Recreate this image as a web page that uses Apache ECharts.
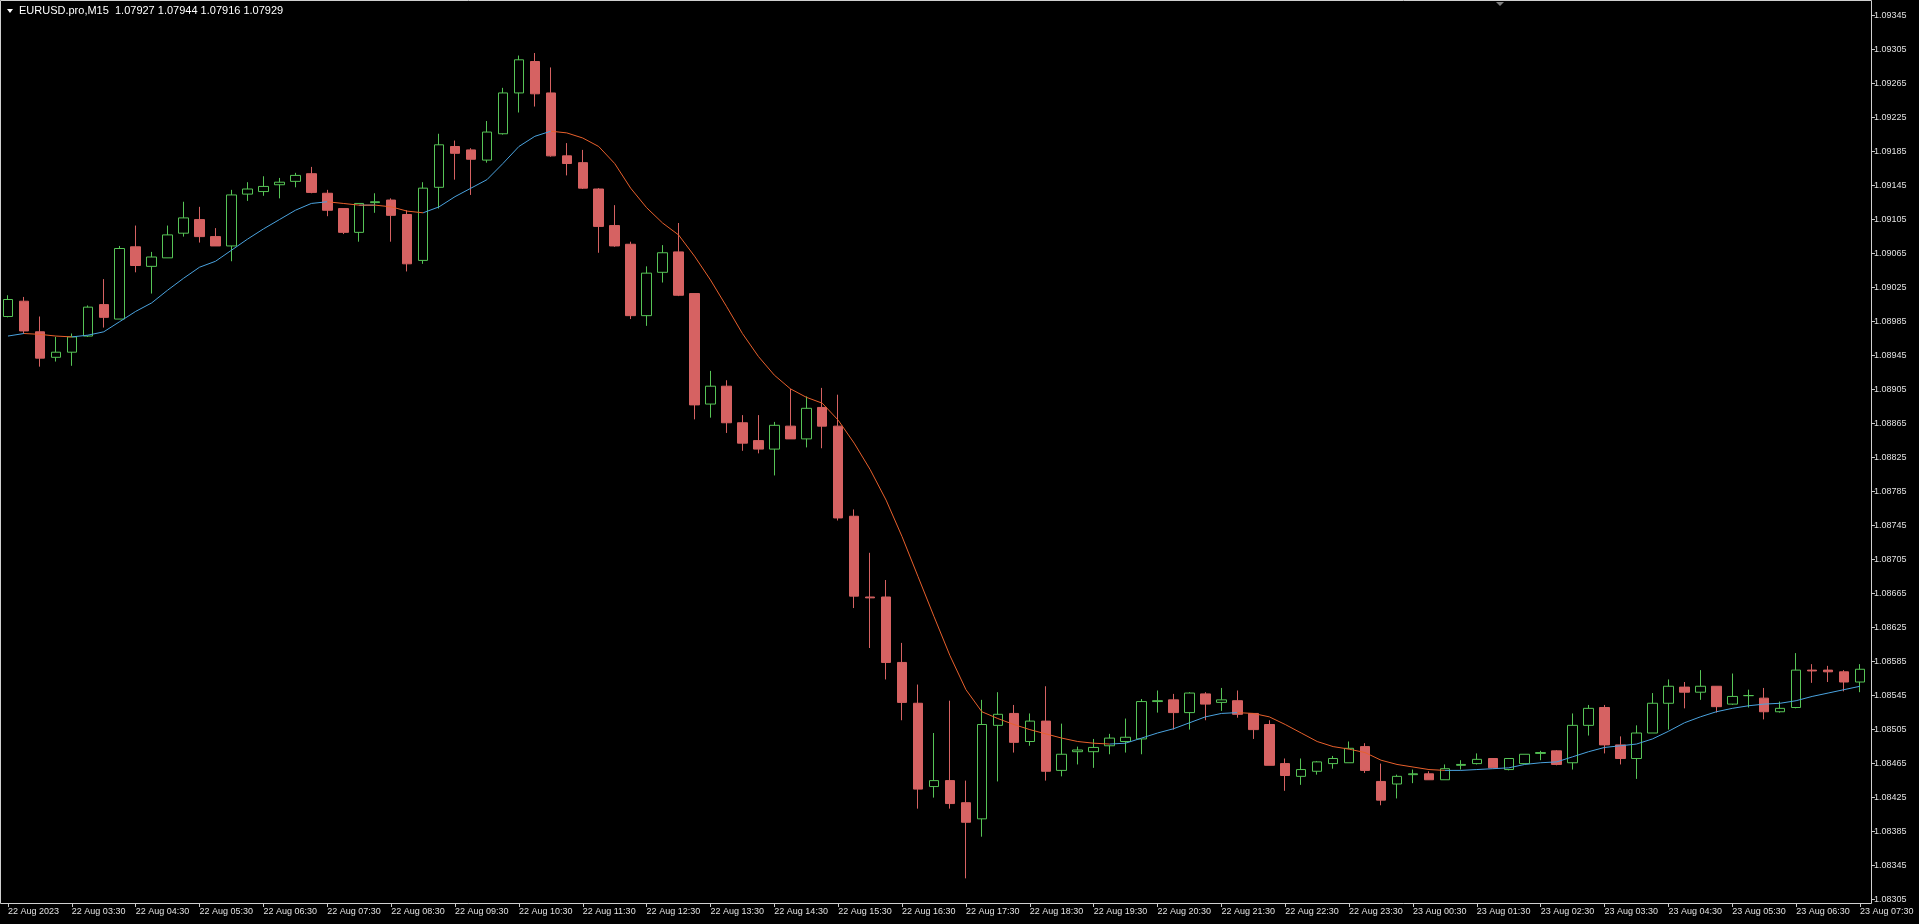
<!DOCTYPE html>
<html>
<head>
<meta charset="utf-8">
<script src="https://cdn.jsdelivr.net/npm/echarts@6.0.0/dist/echarts.min.js"></script>
<style>
  html, body { margin: 0; padding: 0; background: #000; }
  #main { width: 1919px; height: 924px; }
</style>
</head>
<body>
<div id="main"></div>
<script>
// EURUSD.pro M15, 22 Aug 2023 02:30 .. 23 Aug 2023 07:30
var timeLabels = ['22 Aug 2023', '22 Aug 03:30', '22 Aug 04:30', '22 Aug 05:30', '22 Aug 06:30', '22 Aug 07:30',
  '22 Aug 08:30', '22 Aug 09:30', '22 Aug 10:30', '22 Aug 11:30', '22 Aug 12:30', '22 Aug 13:30', '22 Aug 14:30',
  '22 Aug 15:30', '22 Aug 16:30', '22 Aug 17:30', '22 Aug 18:30', '22 Aug 19:30', '22 Aug 20:30', '22 Aug 21:30',
  '22 Aug 22:30', '22 Aug 23:30', '23 Aug 00:30', '23 Aug 01:30', '23 Aug 02:30', '23 Aug 03:30', '23 Aug 04:30',
  '23 Aug 05:30', '23 Aug 06:30', '23 Aug 07:30'];

var priceTicks = [1.08305, 1.08345, 1.08385, 1.08425, 1.08465, 1.08505, 1.08545, 1.08585, 1.08625, 1.08665,
  1.08705, 1.08745, 1.08785, 1.08825, 1.08865, 1.08905, 1.08945, 1.08985, 1.09025, 1.09065, 1.09105, 1.09145,
  1.09185, 1.09225, 1.09265, 1.09305, 1.09345];

var opens = [1.08991, 1.09009, 1.08973, 1.08943, 1.08949, 1.08968, 1.09005, 1.08988, 1.09073, 1.09050,
  1.09060, 1.09089, 1.09105, 1.09085, 1.09074, 1.09135, 1.09138, 1.09146, 1.09150, 1.09159,
  1.09136, 1.09118, 1.09090, 1.09125, 1.09128, 1.09111, 1.09057, 1.09143, 1.09191, 1.09187,
  1.09175, 1.09206, 1.09254, 1.09291, 1.09254, 1.09180, 1.09172, 1.09141, 1.09098, 1.09076,
  1.08992, 1.09043, 1.09067, 1.09018, 1.08888, 1.08909, 1.08866, 1.08845, 1.08835, 1.08862,
  1.08847, 1.08884, 1.08862, 1.08756, 1.08661, 1.08661, 1.08584, 1.08536, 1.08438, 1.08445,
  1.08419, 1.08400, 1.08510, 1.08524, 1.08491, 1.08515, 1.08457, 1.08479, 1.08479, 1.08486,
  1.08491, 1.08494, 1.08538, 1.08540, 1.08525, 1.08547, 1.08537, 1.08539, 1.08524, 1.08511,
  1.08465, 1.08450, 1.08456, 1.08465, 1.08466, 1.08485, 1.08444, 1.08441, 1.08452, 1.08453,
  1.08446, 1.08463, 1.08465, 1.08471, 1.08458, 1.08465, 1.08477, 1.08480, 1.08466, 1.08510,
  1.08531, 1.08487, 1.08471, 1.08501, 1.08536, 1.08555, 1.08549, 1.08556, 1.08535, 1.08545,
  1.08542, 1.08526, 1.08531, 1.08575, 1.08575, 1.08573, 1.08561];

var closes = [1.09011, 1.08974, 1.08942, 1.08949, 1.08967, 1.09002, 1.08990, 1.09071, 1.09051, 1.09061,
  1.09087, 1.09107, 1.09085, 1.09074, 1.09134, 1.09141, 1.09144, 1.09149, 1.09157, 1.09137,
  1.09116, 1.09090, 1.09124, 1.09126, 1.09110, 1.09053, 1.09142, 1.09193, 1.09183, 1.09176,
  1.09208, 1.09254, 1.09293, 1.09253, 1.09180, 1.09171, 1.09142, 1.09097, 1.09074, 1.08992,
  1.09042, 1.09066, 1.09016, 1.08887, 1.08909, 1.08866, 1.08842, 1.08835, 1.08863, 1.08847,
  1.08883, 1.08862, 1.08754, 1.08662, 1.08660, 1.08584, 1.08537, 1.08435, 1.08445, 1.08418,
  1.08396, 1.08511, 1.08523, 1.08490, 1.08515, 1.08456, 1.08476, 1.08481, 1.08484, 1.08495,
  1.08496, 1.08538, 1.08539, 1.08525, 1.08548, 1.08535, 1.08540, 1.08523, 1.08505, 1.08463,
  1.08451, 1.08458, 1.08467, 1.08471, 1.08483, 1.08457, 1.08422, 1.08450, 1.08453, 1.08446,
  1.08459, 1.08464, 1.08470, 1.08460, 1.08471, 1.08476, 1.08478, 1.08464, 1.08510, 1.08530,
  1.08487, 1.08471, 1.08501, 1.08536, 1.08556, 1.08549, 1.08556, 1.08532, 1.08544, 1.08545,
  1.08526, 1.08530, 1.08575, 1.08574, 1.08573, 1.08561, 1.08576];

var lows = [1.08990, 1.08971, 1.08932, 1.08938, 1.08933, 1.08967, 1.08978, 1.08988, 1.09043, 1.09018,
  1.09060, 1.09085, 1.09078, 1.09074, 1.09056, 1.09127, 1.09133, 1.09130, 1.09143, 1.09136,
  1.09109, 1.09088, 1.09079, 1.09113, 1.09079, 1.09044, 1.09053, 1.09118, 1.09152, 1.09134,
  1.09172, 1.09205, 1.09231, 1.09238, 1.09179, 1.09157, 1.09141, 1.09066, 1.09073, 1.08988,
  1.08980, 1.09031, 1.09015, 1.08870, 1.08872, 1.08854, 1.08833, 1.08830, 1.08804, 1.08847,
  1.08837, 1.08836, 1.08751, 1.08648, 1.08601, 1.08564, 1.08516, 1.08412, 1.08425, 1.08412,
  1.08330, 1.08379, 1.08444, 1.08478, 1.08486, 1.08445, 1.08450, 1.08464, 1.08460, 1.08476,
  1.08478, 1.08476, 1.08525, 1.08505, 1.08505, 1.08516, 1.08527, 1.08519, 1.08494, 1.08463,
  1.08433, 1.08440, 1.08452, 1.08459, 1.08466, 1.08454, 1.08416, 1.08424, 1.08442, 1.08446,
  1.08446, 1.08458, 1.08464, 1.08460, 1.08457, 1.08465, 1.08469, 1.08463, 1.08458, 1.08498,
  1.08477, 1.08464, 1.08447, 1.08501, 1.08505, 1.08530, 1.08540, 1.08525, 1.08534, 1.08531,
  1.08517, 1.08525, 1.08530, 1.08560, 1.08561, 1.08550, 1.08549];

var highs = [1.09016, 1.09014, 1.08991, 1.08967, 1.08971, 1.09004, 1.09035, 1.09074, 1.09098, 1.09067,
  1.09098, 1.09126, 1.09120, 1.09095, 1.09140, 1.09149, 1.09156, 1.09154, 1.09160, 1.09167,
  1.09140, 1.09118, 1.09124, 1.09136, 1.09130, 1.09116, 1.09149, 1.09206, 1.09198, 1.09189,
  1.09221, 1.09260, 1.09298, 1.09301, 1.09284, 1.09195, 1.09187, 1.09142, 1.09122, 1.09079,
  1.09050, 1.09075, 1.09101, 1.09018, 1.08927, 1.08916, 1.08875, 1.08875, 1.08867, 1.08906,
  1.08897, 1.08907, 1.08899, 1.08764, 1.08713, 1.08681, 1.08607, 1.08558, 1.08501, 1.08539,
  1.08445, 1.08540, 1.08549, 1.08534, 1.08524, 1.08556, 1.08512, 1.08485, 1.08494, 1.08500,
  1.08518, 1.08541, 1.08551, 1.08547, 1.08549, 1.08549, 1.08554, 1.08551, 1.08524, 1.08516,
  1.08471, 1.08471, 1.08468, 1.08474, 1.08491, 1.08489, 1.08465, 1.08452, 1.08458, 1.08456,
  1.08464, 1.08469, 1.08477, 1.08471, 1.08471, 1.08476, 1.08480, 1.08481, 1.08524, 1.08534,
  1.08534, 1.08497, 1.08510, 1.08548, 1.08564, 1.08561, 1.08575, 1.08556, 1.08571, 1.08552,
  1.08554, 1.08538, 1.08595, 1.08582, 1.08580, 1.08575, 1.08582];

// moving average line
var maValues = [1.08968, 1.08971, 1.08970, 1.08968, 1.08967, 1.08969, 1.08973, 1.08985, 1.08997, 1.09007,
  1.09022, 1.09036, 1.09049, 1.09056, 1.09069, 1.09082, 1.09094, 1.09105, 1.09116, 1.09124,
  1.09126, 1.09124, 1.09122, 1.09122, 1.09120, 1.09115, 1.09113, 1.09120, 1.09132, 1.09142,
  1.09152, 1.09171, 1.09191, 1.09203, 1.09209, 1.09207, 1.09201, 1.09191, 1.09171, 1.09142,
  1.09119, 1.09101, 1.09087, 1.09062, 1.09034, 1.09003, 1.08971, 1.08944, 1.08922, 1.08906,
  1.08896, 1.08889, 1.08869, 1.08842, 1.08811, 1.08775, 1.08732, 1.08685, 1.08638, 1.08592,
  1.08552, 1.08526, 1.08518, 1.08511, 1.08505, 1.08500, 1.08495, 1.08491, 1.08489, 1.08488,
  1.08489, 1.08495, 1.08501, 1.08506, 1.08513, 1.08520, 1.08524, 1.08525, 1.08524, 1.08520,
  1.08511, 1.08501, 1.08491, 1.08485, 1.08482, 1.08478, 1.08469, 1.08464, 1.08461, 1.08458,
  1.08457, 1.08457, 1.08458, 1.08459, 1.08460, 1.08464, 1.08466, 1.08467, 1.08473, 1.08479,
  1.08484, 1.08486, 1.08488, 1.08494, 1.08503, 1.08513, 1.08520, 1.08526, 1.08530, 1.08533,
  1.08535, 1.08536, 1.08539, 1.08544, 1.08548, 1.08552, 1.08556];

var categories = opens.map(function (v, i) { return i; });
var candles = opens.map(function (o, i) { return [o, closes[i], lows[i], highs[i]]; });

// split the MA into rising (blue) and falling (orange) pieces
var maUp = maValues.map(function () { return null; });
var maDown = maValues.map(function () { return null; });
for (var i = 0; i < maValues.length - 1; i++) {
  var target = maValues[i + 1] >= maValues[i] ? maUp : maDown;
  target[i] = maValues[i];
  target[i + 1] = maValues[i + 1];
}

var chart = echarts.init(document.getElementById('main'));
var font = 'Liberation Sans';

chart.setOption({
  backgroundColor: '#000',
  animation: false,
  grid: { left: -4, right: 51, top: 2, bottom: 21, containLabel: false },
  xAxis: {
    type: 'category',
    data: categories,
    boundaryGap: true,
    axisLine: { show: false },
    axisTick: { show: true, interval: 3, alignWithLabel: true, length: 4, lineStyle: { color: '#c8c8c8' } },
    axisLabel: {
      interval: 3,
      align: 'left',
      margin: 4,
      color: '#e0e0e0',
      fontFamily: font,
      fontSize: 9,
      formatter: function (v, idx) { return timeLabels[idx / 4] || ''; }
    },
    splitLine: { show: false }
  },
  yAxis: {
    type: 'value',
    position: 'right',
    offset: 3,
    min: 1.08301,
    max: 1.09361,
    scale: true,
    axisLine: { show: false },
    axisTick: { show: true, length: 4, customValues: priceTicks, lineStyle: { color: '#c8c8c8' } },
    axisLabel: {
      customValues: priceTicks,
      margin: 3,
      color: '#e0e0e0',
      fontFamily: font,
      fontSize: 9,
      formatter: function (v) { return v.toFixed(5); }
    },
    splitLine: { show: false }
  },
  graphic: [
    { type: 'rect', shape: { x: 0.5, y: 0.5, width: 1871, height: 903 }, style: { fill: 'none', stroke: '#d0d0d0', lineWidth: 1 }, silent: true, z: 10 },
    { type: 'polygon', shape: { points: [[7, 9], [13, 9], [10, 13]] }, style: { fill: '#ffffff' }, z: 10 },
    { type: 'text', x: 19, y: 5, style: { text: 'EURUSD.pro,M15  1.07927 1.07944 1.07916 1.07929', fill: '#ffffff', font: '11px ' + font }, z: 10 },
    { type: 'polygon', shape: { points: [[1496, 2], [1504, 2], [1500, 6]] }, style: { fill: '#808080' }, z: 10 }
  ],
  series: [
    {
      type: 'candlestick',
      data: candles,
      barWidth: 10,
      itemStyle: {
        color: '#000000',
        color0: '#d66262',
        borderColor: '#56c456',
        borderColor0: '#d66262',
        borderWidth: 1
      },
      z: 2
    },
    {
      type: 'line',
      data: maUp,
      showSymbol: false,
      connectNulls: false,
      lineStyle: { color: '#4aa3df', width: 1 },
      z: 3
    },
    {
      type: 'line',
      data: maDown,
      showSymbol: false,
      connectNulls: false,
      lineStyle: { color: '#e8602c', width: 1 },
      z: 3
    }
  ]
});
</script>
</body>
</html>
